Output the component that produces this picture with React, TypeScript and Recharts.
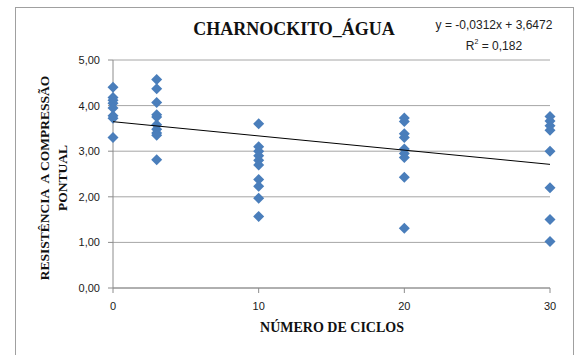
import React from 'react';
import { ScatterChart, Scatter, XAxis, YAxis, CartesianGrid } from 'recharts';

const cycles = [0, 3, 10, 20, 30];
const valuesC0 = [4.4, 4.18, 4.12, 4.05, 3.95, 3.78, 3.72, 3.3];
const valuesC3 = [4.57, 4.37, 4.07, 3.8, 3.75, 3.58, 3.48, 3.4, 3.35, 2.81];
const valuesC10 = [3.6, 3.1, 3.0, 2.9, 2.8, 2.7, 2.38, 2.23, 1.97, 1.57];
const valuesC20 = [3.73, 3.65, 3.38, 3.3, 3.05, 2.95, 2.86, 2.43, 1.31];
const valuesC30 = [3.76, 3.66, 3.56, 3.46, 3.0, 2.2, 1.5, 1.02];
const seriesValues = [valuesC0, valuesC3, valuesC10, valuesC20, valuesC30];

const trendX = [0, 30];
const trendY = [3.6472, 2.7112];

const xTicks = [0, 10, 20, 30];
const yTicks = [0, 1, 2, 3, 4, 5];

const title = 'CHARNOCKITO_ÁGUA';
const equation = 'y = -0,0312x + 3,6472';
const xLabel = 'NÚMERO DE CICLOS';
const yLabel1 = 'RESISTÊNCIA  A COMPRESSÃO';
const yLabel2 = 'PONTUAL';

const points = cycles.flatMap((c, i) => seriesValues[i].map((v) => ({ x: c, y: v })));
const trend = trendX.map((x, i) => ({ x, y: trendY[i] }));

const Diamond = (props: any) => {
  const { cx, cy } = props;
  const r = 5.5;
  return (
    <polygon
      points={`${cx},${cy - r} ${cx + r},${cy} ${cx},${cy + r} ${cx - r},${cy}`}
      fill="#4a7ebb"
    />
  );
};

const NoShape = () => <g />;

const serif = '"Liberation Serif", "DejaVu Serif", serif';
const sans = '"Liberation Sans", Arial, sans-serif';

export default function App() {
  return (
    <div style={{ position: 'absolute', left: 0, top: 0, width: 579, height: 355, background: '#fff', overflow: 'hidden' }}>
      <div
        style={{
          position: 'absolute',
          left: 15,
          top: 7,
          width: 559,
          height: 360,
          border: '1.5px solid #a0a0a0',
          boxSizing: 'border-box',
        }}
      />
      <ScatterChart
        width={579}
        height={355}
        margin={{ top: 60, right: 29, left: 73, bottom: 37 }}
        style={{ position: 'absolute', left: 0, top: 0 }}
      >
        <CartesianGrid horizontal vertical={false} stroke="#a6a6a6" strokeWidth={1} />
        <XAxis
          type="number"
          dataKey="x"
          domain={[0, 30]}
          ticks={xTicks}
          interval={0}
          height={30}
          stroke="#8c8c8c"
          tickSize={5}
          tickMargin={9}
          tick={{ fontSize: 11, fill: '#1a1a1a', fontFamily: sans }}
        />
        <YAxis
          type="number"
          dataKey="y"
          domain={[0, 5]}
          ticks={yTicks}
          interval={0}
          width={40}
          stroke="#8c8c8c"
          tickSize={5}
          tickMargin={8}
          tickFormatter={(v: number) => v.toFixed(2).replace('.', ',')}
          tick={{ fontSize: 11, fill: '#1a1a1a', fontFamily: sans }}
        />
        <Scatter data={points} shape={Diamond} isAnimationActive={false} />
        <Scatter
          data={trend}
          line={{ stroke: '#000', strokeWidth: 1 }}
          shape={NoShape}
          isAnimationActive={false}
        />
      </ScatterChart>
      <div
        style={{
          position: 'absolute',
          left: 144,
          width: 300,
          top: 19,
          textAlign: 'center',
          fontFamily: serif,
          fontWeight: 'bold',
          fontSize: 18,
          color: '#111',
          lineHeight: '20px',
        }}
      >
        {title}
      </div>
      <div
        style={{
          position: 'absolute',
          left: 419,
          width: 150,
          top: 15,
          textAlign: 'center',
          fontFamily: sans,
          fontSize: 12,
          color: '#222',
          lineHeight: '21px',
        }}
      >
        <div>{equation}</div>
        <div>
          R<sup style={{ fontSize: 7, verticalAlign: 'top', lineHeight: '12px' }}>2</sup> = 0,182
        </div>
      </div>
      <div
        style={{
          position: 'absolute',
          left: 182,
          width: 300,
          top: 320,
          textAlign: 'center',
          fontFamily: serif,
          fontWeight: 'bold',
          fontSize: 14,
          color: '#111',
          lineHeight: '16px',
        }}
      >
        {xLabel}
      </div>
      <div
        style={{
          position: 'absolute',
          left: 54 - 130,
          top: 178 - 18,
          width: 260,
          height: 36,
          transform: 'rotate(-90deg)',
          textAlign: 'center',
          fontFamily: serif,
          fontWeight: 'bold',
          fontSize: 13.5,
          color: '#111',
          lineHeight: '18px',
          whiteSpace: 'pre',
        }}
      >
        <div>{yLabel1}</div>
        <div>{yLabel2}</div>
      </div>
    </div>
  );
}
